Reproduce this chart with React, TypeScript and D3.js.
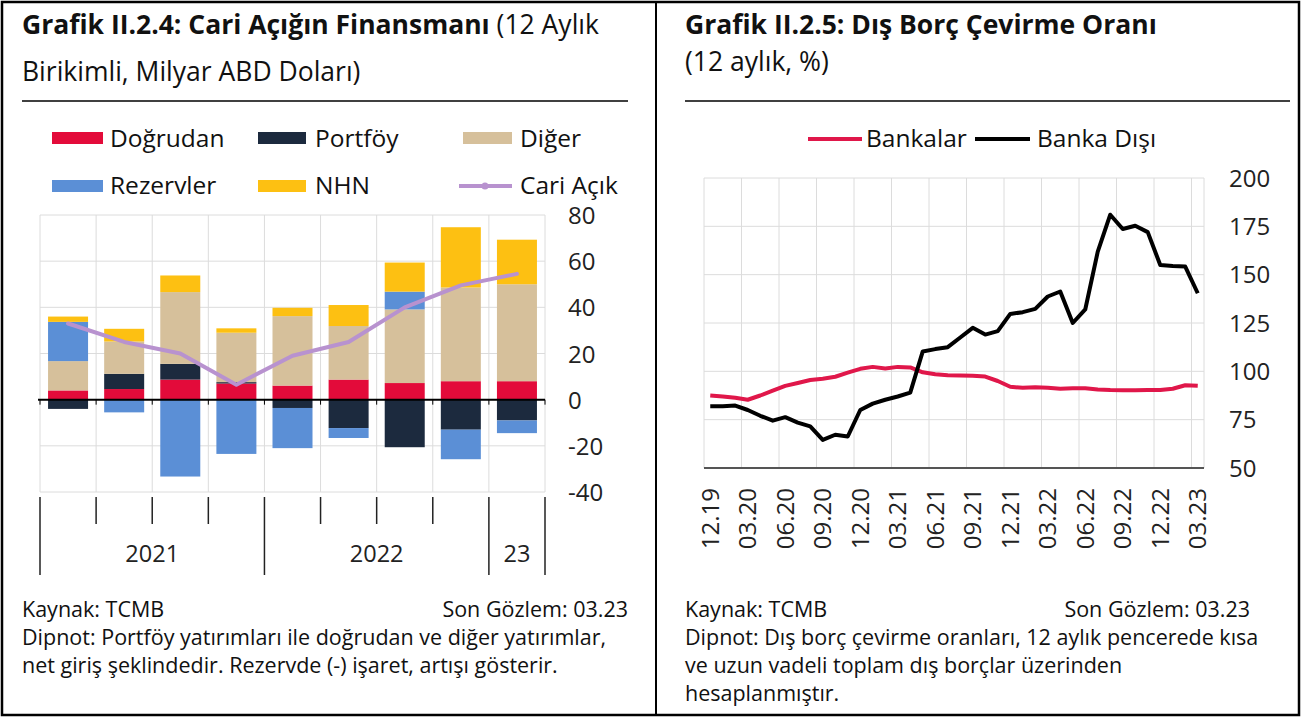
import React from 'react'
import * as d3 from 'd3'

// ---- Grafik II.2.4 (quarterly, 12-month cumulative, bn USD)
const quarterYear = ['2021', '2021', '2021', '2021', '2022', '2022', '2022', '2022', '23']
const dogrudan = [4, 4.6, 8.7, 7, 6.1, 8.7, 7.2, 8, 8]
const portfoy = [-4, 6.6, 6.8, 0.6, -3.6, -12.3, -20.6, -13, -9]
const diger = [12.7, 14, 31.1, 21.4, 30.1, 23.2, 31.9, 40.6, 42]
const rezervler = [17, -5.5, -33.3, -23.5, -17.4, -4.3, 7.7, -12.8, -5.5]
const nhn = [2.3, 5.5, 7.2, 1.9, 3.6, 9.1, 12.6, 26.1, 19.3]
const cariAcik = [33, 25, 20, 6.5, 19, 25, 40, 49.5, 54.5]
const leftTicks = [-40, -20, 0, 20, 40, 60, 80]

// ---- Grafik II.2.5 (monthly, 12.19 - 03.23, %)
const bankalar = [
  87.5, 87, 86.3, 85.3, 87.5, 90, 92.5, 94, 95.5, 96.2,
  97.2, 99.3, 101.3, 102.3, 101.5, 102.3, 102, 99.5, 98.5, 98,
  97.8, 97.7, 97.3, 95, 92, 91.5, 91.8, 91.5, 91, 91.2,
  91.3, 90.6, 90.3, 90.2, 90.2, 90.3, 90.3, 91, 92.8, 92.5
]
const bankaDisi = [
  82, 82, 82.3, 80, 77, 74.5, 76.3, 73.5, 71.5, 64.5,
  67.2, 66.3, 80, 83.3, 85.3, 87, 89, 110.3, 111.5, 112.5,
  117.5, 122.5, 119, 120.8, 129.7, 130.6, 132.3, 138.7, 141.3, 125,
  132, 161.9, 181, 173.6, 175.3, 172, 155, 154.5, 154.2, 140.4
]
const rightTicks = [50, 75, 100, 125, 150, 175, 200]

const FONT = '"Open Sans", "Noto Sans", sans-serif'
const keys = ['dogrudan', 'portfoy', 'diger', 'rezervler', 'nhn']
const colors = {
  dogrudan: '#e30b3a',
  portfoy: '#1c2a3e',
  diger: '#d6c09b',
  rezervler: '#5b8fd6',
  nhn: '#fdc012',
}
const cariColor = '#b892cf'
const bankColor = '#e0174a'

const TITLE = 26.5
const LEGEND = 24.5
const TICK = 24
const FOOT = 21.5

const monthLabel = (i: number) => {
  const m = (11 + i) % 12 + 1
  const y = 19 + Math.floor((11 + i) / 12)
  return `${String(m).padStart(2, '0')}.${y}`
}

function LeftChart() {
  const rows = quarterYear.map((q, i) => ({
    idx: i,
    dogrudan: dogrudan[i],
    portfoy: portfoy[i],
    diger: diger[i],
    rezervler: rezervler[i],
    nhn: nhn[i],
  }))
  const idxs = rows.map(d => d.idx)

  const x = d3.scaleBand<number>().domain(idxs).range([40, 545]).paddingInner(0.287).paddingOuter(0.1435)
  const y = d3.scaleLinear().domain([-40, 80]).range([492, 215])
  const step = x.step()
  const bounds = d3.range(idxs.length + 1).map(k => 40 + k * step)

  const series = d3.stack<any>().keys(keys).offset(d3.stackOffsetDiverging)(rows)

  const line = d3.line<number>()
    .x((_, i) => (x(i) as number) + x.bandwidth() / 2)
    .y(d => y(d))

  // year groups for the lower axis
  const groups: { label: string, from: number, to: number }[] = []
  quarterYear.forEach((q, i) => {
    const g = groups[groups.length - 1]
    if (g && g.label === q) g.to = i + 1
    else groups.push({ label: q, from: i, to: i + 1 })
  })
  const longTicks = new Set<number>([0, ...groups.map(g => g.to)])

  return (
    <g>
      {/* grid */}
      {leftTicks.filter(t => t !== 0).map(t => (
        <line key={t} x1={40} x2={545} y1={y(t)} y2={y(t)} stroke="#dcdcdc" strokeWidth={1} />
      ))}
      {bounds.map((b, k) => (
        <line key={k} x1={b} x2={b} y1={y(80)} y2={y(-40)} stroke="#dcdcdc" strokeWidth={1} />
      ))}
      {/* bars */}
      {series.map(s => (
        <g key={s.key} fill={(colors as any)[s.key]}>
          {s.map((d, i) => (
            <rect key={i} x={x(i)} width={x.bandwidth()}
              y={y(Math.max(d[0], d[1]))} height={Math.abs(y(d[0]) - y(d[1]))} />
          ))}
        </g>
      ))}
      {/* zero line */}
      <line x1={38} x2={545} y1={y(0)} y2={y(0)} stroke="#000" strokeWidth={2} />
      {bounds.map((b, k) => (
        <line key={k} x1={b} x2={b} y1={y(0)} y2={y(0) + 5} stroke="#000" strokeWidth={1} />
      ))}
      {/* cari açık */}
      <path d={line(cariAcik) || ''} fill="none" stroke={cariColor} strokeWidth={4} strokeLinejoin="round" strokeLinecap="round" />
      {/* y labels */}
      {leftTicks.map(t => (
        <text key={t} x={568} y={y(t)} dy="0.38em" fontSize={TICK} fill="#222">{t}</text>
      ))}
      {/* lower axis */}
      {bounds.map((b, k) => (
        <line key={k} x1={b} x2={b} y1={497} y2={longTicks.has(k) ? 575 : 524} stroke="#222" strokeWidth={1.5} />
      ))}
      {groups.map(g => (
        <text key={g.label} x={(bounds[g.from] + bounds[g.to]) / 2} y={562} textAnchor="middle" fontSize={23.5} fill="#222">{g.label}</text>
      ))}
    </g>
  )
}

function RightChart() {
  const idxs = d3.range(bankalar.length)
  const x = d3.scaleBand<number>().domain(idxs).range([704, 1204])
  const y = d3.scaleLinear().domain([50, 200]).range([468, 178])
  const cx = (i: number) => (x(i) as number) + x.bandwidth() / 2
  const line = d3.line<number>().x((_, i) => cx(i)).y(d => y(d))
  const vgrid = idxs.filter(i => i % 3 === 0).map(i => x(i) as number).concat([1204])

  return (
    <g>
      {rightTicks.filter(t => t !== 50).map(t => (
        <line key={t} x1={704} x2={1204} y1={y(t)} y2={y(t)} stroke="#dcdcdc" strokeWidth={1} />
      ))}
      {vgrid.map((v, k) => (
        <line key={k} x1={v} x2={v} y1={y(200)} y2={y(50)} stroke="#dcdcdc" strokeWidth={1} />
      ))}
      <line x1={704} x2={1204} y1={y(50)} y2={y(50)} stroke="#555" strokeWidth={2} />
      <path d={line(bankalar) || ''} fill="none" stroke={bankColor} strokeWidth={4} strokeLinejoin="round" />
      <path d={line(bankaDisi) || ''} fill="none" stroke="#000" strokeWidth={4} strokeLinejoin="round" />
      {rightTicks.map(t => (
        <text key={t} x={1229} y={y(t)} dy="0.36em" fontSize={TICK} fill="#222">{t}</text>
      ))}
      {idxs.filter(i => i % 3 === 0).map(i => (
        <text key={i} transform={`translate(${cx(i)},488) rotate(-90)`} textAnchor="end" dy="0.36em" fontSize={24} fill="#222">
          {monthLabel(i)}
        </text>
      ))}
    </g>
  )
}

export default function App() {
  return (
    <svg width={1301} height={717} style={{ position: 'absolute', left: 0, top: 0, background: '#fff' }} fontFamily={FONT}>
      <rect x={0} y={0} width={1301} height={717} fill="#fff" />
      <rect x={2} y={2} width={1297} height={713} fill="none" stroke="#000" strokeWidth={2.5} />
      <line x1={656} x2={656} y1={2} y2={715} stroke="#000" strokeWidth={2} />

      {/* left header */}
      <text x={22} y={34} fontSize={TITLE} fill="#111">
        <tspan fontWeight="bold">Grafik II.2.4: Cari Açığın Finansmanı</tspan>
        <tspan> (12 Aylık</tspan>
      </text>
      <text x={22} y={81} fontSize={TITLE} fill="#111">Birikimli, Milyar ABD Doları)</text>
      <line x1={22} x2={628} y1={101} y2={101} stroke="#000" strokeWidth={1.5} />

      {/* left legend */}
      <g fontSize={LEGEND} fill="#111">
        <rect x={52} y={132} width={51} height={12} fill={colors.dogrudan} />
        <text x={110} y={147}>Doğrudan</text>
        <rect x={258} y={132} width={48} height={12} fill={colors.portfoy} />
        <text x={315} y={147}>Portföy</text>
        <rect x={463} y={132} width={49} height={12} fill={colors.diger} />
        <text x={520} y={147}>Diğer</text>
        <rect x={52} y={180} width={51} height={12} fill={colors.rezervler} />
        <text x={110} y={194}>Rezervler</text>
        <rect x={258} y={180} width={48} height={12} fill={colors.nhn} />
        <text x={315} y={194}>NHN</text>
        <line x1={459} x2={512} y1={186} y2={186} stroke={cariColor} strokeWidth={4} />
        <circle cx={485} cy={186} r={3.5} fill={cariColor} />
        <text x={520} y={194}>Cari Açık</text>
      </g>

      <LeftChart />

      {/* left footer */}
      <g fontSize={FOOT} fill="#111">
        <text x={22} y={617}>Kaynak: TCMB</text>
        <text x={628} y={617} textAnchor="end">Son Gözlem: 03.23</text>
        <text x={22} y={645}>Dipnot: Portföy yatırımları ile doğrudan ve diğer yatırımlar,</text>
        <text x={22} y={673}>net giriş şeklindedir. Rezervde (-) işaret, artışı gösterir.</text>
      </g>

      {/* right header */}
      <text x={685} y={34} fontSize={TITLE} fontWeight="bold" fill="#111">Grafik II.2.5: Dış Borç Çevirme Oranı</text>
      <text x={685} y={71} fontSize={TITLE} fill="#111">(12 aylık, %)</text>
      <line x1={685} x2={1290} y1={101} y2={101} stroke="#000" strokeWidth={1.5} />

      {/* right legend */}
      <g fontSize={LEGEND} fill="#111">
        <line x1={808} x2={862} y1={139} y2={139} stroke={bankColor} strokeWidth={4} />
        <text x={866} y={147}>Bankalar</text>
        <line x1={975} x2={1030} y1={139} y2={139} stroke="#000" strokeWidth={4} />
        <text x={1037} y={147}>Banka Dışı</text>
      </g>

      <RightChart />

      {/* right footer */}
      <g fontSize={FOOT} fill="#111">
        <text x={685} y={617}>Kaynak: TCMB</text>
        <text x={1250} y={617} textAnchor="end">Son Gözlem: 03.23</text>
        <text x={685} y={645}>Dipnot: Dış borç çevirme oranları, 12 aylık pencerede kısa</text>
        <text x={685} y={673}>ve uzun vadeli toplam dış borçlar üzerinden</text>
        <text x={685} y={701}>hesaplanmıştır.</text>
      </g>
    </svg>
  )
}
